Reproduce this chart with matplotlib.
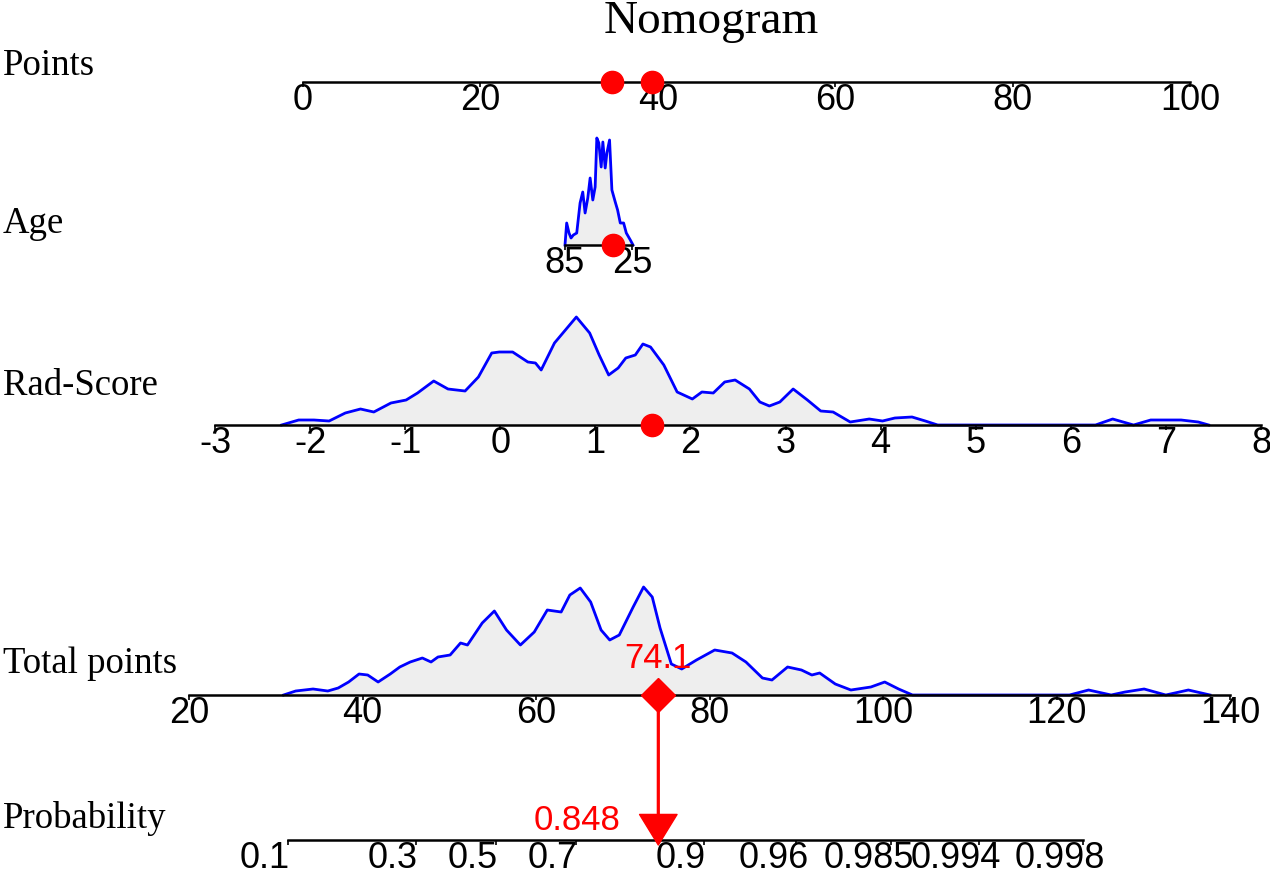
import numpy as np
import matplotlib
matplotlib.use("Agg")
import matplotlib.pyplot as plt
from matplotlib.transforms import ScaledTranslation

plt.rcParams["axes.unicode_minus"] = False

# ---- data ----
POINT_TICKS = [0, 20, 40, 60, 80, 100]
POINT_DOTS = [34.8, 39.3]

AGE_TICKS = [85, 25]
AGE_VALUE = 42
AGE_X = [85, 83.5, 81.4, 79.6, 77.5, 74.5, 71.5, 69.1, 67.0, 64.6, 62.5, 60.1, 58.0, 56.5,
         54.7, 52.6, 51.1, 49.0, 47.5, 45.1, 43.0, 40.0, 37.9, 35.5, 32.5, 30.1, 26.5, 24.1]
AGE_H = [0, 22, 12, 7, 10, 12, 42, 53, 32, 47, 67, 45, 58, 107,
         102, 78, 103, 77, 92, 105, 55, 43, 35, 22, 22, 12, 5, 0]

RAD_TICKS = [-3, -2, -1, 0, 1, 2, 3, 4, 5, 6, 7, 8]
RAD_VALUE = 1.6
RAD_X = [-2.30, -2.12, -1.96, -1.80, -1.63, -1.47, -1.33, -1.15, -0.99, -0.87, -0.70, -0.55,
         -0.37, -0.23, -0.09, -0.01, 0.13, 0.29, 0.37, 0.43, 0.57, 0.80, 0.94, 1.04, 1.14,
         1.24, 1.32, 1.42, 1.50, 1.58, 1.72, 1.86, 2.02, 2.12, 2.24, 2.36, 2.47, 2.62, 2.73,
         2.83, 2.94, 3.08, 3.23, 3.37, 3.50, 3.68, 3.88, 4.02, 4.15, 4.33, 4.47, 4.60, 6.26,
         6.44, 6.66, 6.84, 7.16, 7.34, 7.45]
RAD_H = [0, 5, 5, 4, 12, 16, 13, 22, 25, 32, 44, 36,
         34, 48, 72, 73, 73, 63, 62, 55, 82, 108, 92, 70, 50,
         57, 67, 70, 81, 78, 60, 33, 26, 33, 32, 43, 45, 36, 23,
         19, 23, 36, 25, 14, 13, 3, 6, 4, 7, 8, 4, 0, 0,
         6, 0, 5, 5, 3, 0]

TOTAL_TICKS = [20, 40, 60, 80, 100, 120, 140]
TOTAL_VALUE = 74.1
TOT_X = [30.9, 32.3, 34.3, 36.0, 37.2, 38.4, 39.6, 40.6, 41.8, 43.2, 44.3, 45.5, 46.9, 47.9,
         48.7, 50.1, 51.3, 52.1, 53.8, 55.2, 56.6, 58.2, 59.8, 61.3, 62.9, 63.9, 65.1, 66.3,
         67.5, 68.5, 69.6, 71.2, 72.4, 73.4, 74.3, 75.6, 76.8, 78.5, 80.6, 82.6, 84.2, 86.1,
         87.2, 89.0, 90.6, 91.8, 92.7, 94.5, 96.3, 98.6, 100.2, 101.8, 103.4, 121.5, 123.7,
         126.3, 127.9, 130.1, 132.6, 135.2, 137.7]
TOT_H = [0, 4, 6, 4, 7, 13, 21, 20, 13, 21, 28, 33, 37, 33,
         38, 40, 52, 50, 72, 84, 65, 50, 63, 85, 83, 100, 107, 93,
         65, 55, 60, 88, 108, 98, 67, 31, 26, 35, 45, 42, 33, 17,
         15, 28, 25, 20, 22, 11, 5, 8, 13, 6, 0, 0, 5,
         0, 3, 6, 0, 5, 0]

PROB_TICKS = [0.1, 0.3, 0.5, 0.7, 0.9, 0.96, 0.985, 0.994, 0.998]
PROB_LABELS = ["0.1", "0.3", "0.5", "0.7", "0.9", "0.96", "0.985", "0.994", "0.998"]
PROB_VALUE = 0.848
# logistic model: logit(p) = A + B * total points
A, B = -5.078, 0.09173

W, H = 1270, 869
SANS = "Liberation Sans"
SERIF = "Liberation Serif"
TICK_SIZE = 26

fig = plt.figure(figsize=(W / 100, H / 100), dpi=100)


def style_axis(ax, lo, hi):
    ax.set_ylim(-50, 120)
    ax.set_facecolor("none")
    for s in ["top", "left", "right"]:
        ax.spines[s].set_visible(False)
    ax.spines["bottom"].set_position(("data", 0))
    ax.spines["bottom"].set_linewidth(1.8)
    ax.spines["bottom"].set_bounds(lo, hi)
    ax.yaxis.set_visible(False)


def row_axes(y_px, v0, px0, v1, px1, ticks):
    ax = fig.add_axes([0, 1 - (y_px + 50) / H, 1, 170 / H])
    k = (v1 - v0) / (px1 - px0)
    ax.set_xlim(v0 - px0 * k, v0 + (W - px0) * k)
    style_axis(ax, min(ticks), max(ticks))
    ax.set_xticks(ticks)
    ax.tick_params(axis="x", direction="out", length=3.6, width=1.2, pad=-2.6,
                   labelsize=TICK_SIZE)
    for lab in ax.get_xticklabels():
        lab.set_family(SANS)
    return ax


def density(ax, x, h):
    ax.fill_between(x, 0, h, color="#EEEEEE", lw=0, zorder=1)
    ax.plot(x, h, color="blue", lw=2, zorder=2)


# Points
ax_pts = row_axes(82, 0, 303, 100, 1190, POINT_TICKS)
ax_pts.plot(POINT_DOTS, [0] * len(POINT_DOTS), "o", color="red", ms=16, zorder=5, clip_on=False)

# Age
ax_age = row_axes(245, 85, 565, 25, 632, AGE_TICKS)
density(ax_age, AGE_X, AGE_H)
ax_age.plot([AGE_VALUE], [0], "o", color="red", ms=16, zorder=5)

# Rad-Score
ax_rad = row_axes(425, -3, 215, 8, 1261, RAD_TICKS)
density(ax_rad, RAD_X, RAD_H)
ax_rad.plot([RAD_VALUE], [0], "o", color="red", ms=16, zorder=5)

# Total points
ax_tot = row_axes(695, 20, 189, 140, 1230, TOTAL_TICKS)
density(ax_tot, TOT_X, TOT_H)
ax_tot.plot([TOTAL_VALUE], [0], "D", color="red", ms=17, zorder=6)
ax_tot.text(TOTAL_VALUE, 27, f"{TOTAL_VALUE}", color="red", fontsize=25, family=SANS,
            ha="center", va="baseline", zorder=7)


# Probability (logistic scale tied to total points)
def p_to_tp(p):
    p = np.clip(np.asarray(p, dtype=float), 1e-12, 1 - 1e-12)
    return (np.log(p / (1 - p)) - A) / B


def tp_to_p(t):
    return 1 / (1 + np.exp(-(A + B * np.asarray(t, dtype=float))))


ax_prob = fig.add_axes([0, 1 - (840 + 50) / H, 1, 170 / H])
ax_prob.set_xscale("function", functions=(p_to_tp, tp_to_p))
k_tot = 120 / (1230 - 189)
ax_prob.set_xlim(tp_to_p(20 - 189 * k_tot), tp_to_p(20 + (W - 189) * k_tot))
style_axis(ax_prob, PROB_TICKS[0], PROB_TICKS[-1])
ax_prob.set_xticks(PROB_TICKS, labels=[""] * len(PROB_TICKS))
ax_prob.set_xticks([], minor=True)
ax_prob.tick_params(axis="x", direction="out", length=3.6, width=1.2)
shift = ax_prob.transData + ScaledTranslation(-0.23, -0.01, fig.dpi_scale_trans)
for p, lab in zip(PROB_TICKS, PROB_LABELS):
    ax_prob.text(p, 0, lab, transform=shift, ha="center", va="top",
                 fontsize=TICK_SIZE, family=SANS)

left = ax_prob.transData + ScaledTranslation(-0.38, 0, fig.dpi_scale_trans)
ax_prob.text(PROB_VALUE, 10, f"{PROB_VALUE}", transform=left, color="red", fontsize=25,
             family=SANS, ha="right", va="baseline")
ax_prob.annotate("", xy=(PROB_VALUE, -5), xycoords="data",
                 xytext=(TOTAL_VALUE, 0), textcoords=ax_tot.transData,
                 arrowprops=dict(color="red", width=1.3, headwidth=27, headlength=22, shrink=0))

# title and row labels
fig.text(711 / W, 1 - 33 / H, "Nomogram", ha="center", va="baseline", fontsize=34, family=SERIF)
for text, base in [("Points", 75), ("Age", 233), ("Rad-Score", 395),
                   ("Total points", 673), ("Probability", 828)]:
    fig.text(3 / W, 1 - base / H, text, ha="left", va="baseline", fontsize=26.5, family=SERIF)

fig.savefig("out.png", dpi=100)
